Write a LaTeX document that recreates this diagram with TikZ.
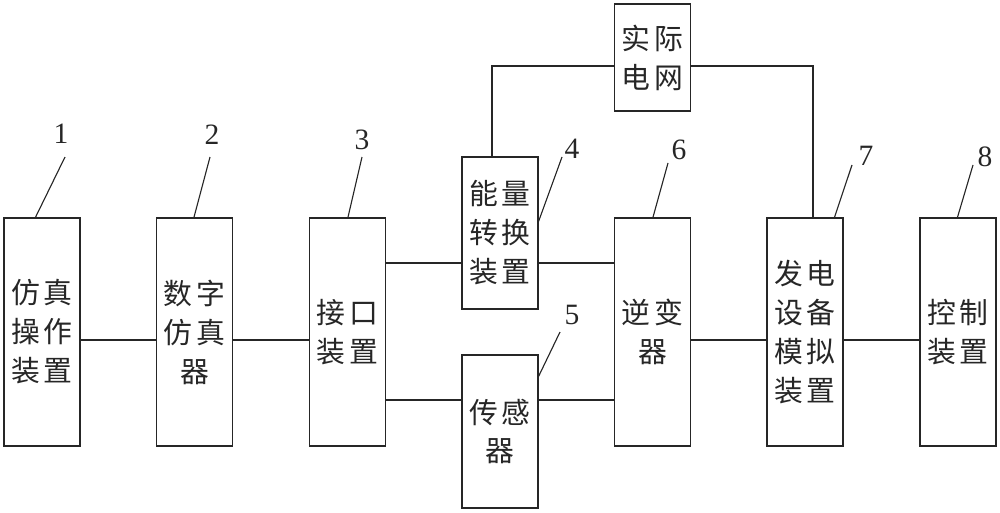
\documentclass[tikz,border=0pt]{standalone}
\usepackage{fontspec}
\newfontfamily\cjk[LetterSpace=12]{Noto Sans CJK SC}
\newfontfamily\numfont{Liberation Serif}

\begin{document}
\begin{tikzpicture}[
  x=0.025cm, y=-0.025cm,
  line width=0.8pt, color=black!85,
  every node/.style={font=\cjk\fontsize{20.5}{27.7}\selectfont},
  blk/.style={draw,inner sep=0pt,minimum width=1.9cm,minimum height=5.7cm,align=center},
  num/.style={font=\numfont\fontsize{21}{24}\selectfont,inner sep=0pt}
]
  \useasboundingbox (0,0) rectangle (1000,513);
  % blocks
  \node[blk] (b1) at (42,332) {仿真\\操作\\装置};
  \node[blk] (b2) at (194.5,332) {数字\\仿真\\器};
  \node[blk] (b3) at (347.5,332) {接口\\装置};
  \node[blk,minimum height=3.8cm] (b4) at (500,233) {能量\\转换\\装置};
  \node[blk,minimum height=3.825cm] (b5) at (500,431.5) {传感\\器};
  \node[blk] (b6) at (652.5,332) {逆变\\器};
  \node[blk] (b7) at (805,332) {发电\\设备\\模拟\\装置};
  \node[blk] (b8) at (958,332) {控制\\装置};
  \node[blk,minimum height=2.675cm] (grid) at (652.5,57.5) {实际\\电网};

  % rows of the connectors
  \coordinate (mid) at (0,340);
  \coordinate (up) at (0,263);
  \coordinate (low) at (0,400);
  \coordinate (top) at (0,66);

  \draw (b1.east |- mid) -- (b2.west |- mid);
  \draw (b2.east |- mid) -- (b3.west |- mid);
  \draw (b3.east |- up) -- (b4.west |- up);
  \draw (b4.east |- up) -- (b6.west |- up);
  \draw (b3.east |- low) -- (b5.west |- low);
  \draw (b5.east |- low) -- (b6.west |- low);
  \draw (b6.east |- mid) -- (b7.west |- mid);
  \draw (b7.east |- mid) -- (b8.west |- mid);
  \draw ([xshift=-0.2cm]b4.north) |- (grid.west |- top);
  \draw (grid.east |- top) -| ([xshift=0.2cm]b7.north);

  % reference numbers
  \node[num] (n1) at (61,134) {1};
  \node[num] (n2) at (212,135) {2};
  \node[num] (n3) at (362,140) {3};
  \node[num] (n4) at (572,149) {4};
  \node[num] (n5) at (572,315) {5};
  \node[num] (n6) at (679,150) {6};
  \node[num] (n7) at (866,156) {7};
  \node[num] (n8) at (985,157) {8};
  \draw ([shift={(4,23)}]n1.center) -- ([xshift=0.8cm]b1.north west);
  \draw ([shift={(-2,22)}]n2.center) -- ([xshift=0.95cm]b2.north west);
  \draw ([shift={(0,17)}]n3.center) -- ([xshift=0.975cm]b3.north west);
  \draw ([shift={(-10,8)}]n4.center) -- ([yshift=-1.625cm]b4.north east);
  \draw ([shift={(-12,17)}]n5.center) -- ([yshift=-0.55cm]b5.north east);
  \draw ([shift={(-11,13)}]n6.center) -- ([xshift=0.975cm]b6.north west);
  \draw ([shift={(-14,9)}]n7.center) -- ([xshift=1.7cm]b7.north west);
  \draw ([shift={(-12,8)}]n8.center) -- ([xshift=0.95cm]b8.north west);
\end{tikzpicture}
\end{document}
